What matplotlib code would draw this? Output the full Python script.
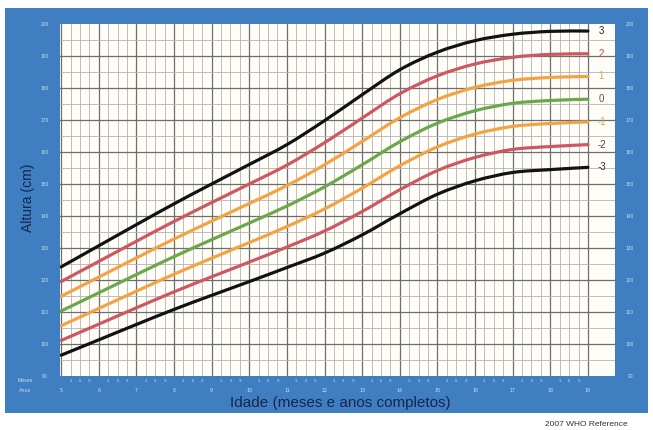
import numpy as np
import matplotlib
matplotlib.use("Agg")
import matplotlib.pyplot as plt
from matplotlib.path import Path
from matplotlib.patches import PathPatch, Rectangle

plt.rcParams['font.family'] = ['Liberation Sans', 'DejaVu Sans']

# Height-for-age z-score curves (cm), boys, by completed years
ages = [5, 6, 7, 8, 9, 10, 11, 12, 13, 14, 15, 16, 17, 18, 19]
z_p3 = [124.1, 130.7, 137.3, 143.8, 150.0, 156.1, 162.3, 169.8, 177.9, 185.7, 191.2, 194.8, 196.8, 197.7, 197.8]
z_p2 = [119.5, 125.8, 132.1, 138.3, 144.2, 150.0, 155.9, 162.9, 170.6, 178.2, 183.8, 187.5, 189.6, 190.5, 190.7]
z_p1 = [114.9, 120.9, 126.9, 132.8, 138.4, 143.9, 149.5, 156.0, 163.3, 170.7, 176.4, 180.2, 182.4, 183.3, 183.6]
z_0 = [110.3, 116.0, 121.7, 127.3, 132.6, 137.8, 143.1, 149.1, 156.0, 163.2, 169.0, 172.9, 175.2, 176.1, 176.5]
z_m1 = [105.7, 111.1, 116.5, 121.8, 126.8, 131.7, 136.7, 142.2, 148.7, 155.7, 161.6, 165.6, 168.0, 168.9, 169.4]
z_m2 = [101.1, 106.2, 111.3, 116.3, 121.0, 125.6, 130.3, 135.3, 141.4, 148.2, 154.2, 158.3, 160.8, 161.7, 162.3]
z_m3 = [96.5, 101.3, 106.1, 110.8, 115.2, 119.5, 123.9, 128.4, 134.1, 140.7, 146.8, 151.0, 153.6, 154.5, 155.2]

z_names = ["3", "2", "1", "0", "-1", "-2", "-3"]
curves = [z_p3, z_p2, z_p1, z_0, z_m1, z_m2, z_m3]
line_colors = ["#121212", "#cd5862", "#f2a444", "#6aa84a", "#f2a444", "#cd5862", "#121212"]
label_colors = ["#222222", "#b34a52", "#e8a050", "#555555", "#e8a050", "#444444", "#333333"]

y_ticks = [90, 100, 110, 120, 130, 140, 150, 160, 170, 180, 190, 200]
month_ticks = ["3", "6", "9"]

W, H = 653, 430
fig = plt.figure(figsize=(W / 100, H / 100), dpi=100)
fig.patch.set_facecolor("white")

def fx(px):
    return px / W

def fy(py):
    return 1 - py / H

# blue frame drawn on a full-figure background axes
bg = fig.add_axes([0, 0, 1, 1], zorder=-5)
bg.set_xlim(0, W)
bg.set_ylim(H, 0)
bg.axis("off")
bg.add_patch(Rectangle((5, 8), 643, 405, facecolor="#3f7fc1", edgecolor="none"))

ax = fig.add_axes([fx(60), fy(376), fx(555), 352 / H], zorder=1)
ax.set_facecolor("#fffdf8")
x0, x1 = 4.97, 19.72
ax.set_xlim(x0, x1)
ax.set_ylim(90, 200)
for s in ax.spines.values():
    s.set_visible(False)
ax.set_xticks([])
ax.set_yticks([])

# grid: quarter-years vertically, 5 cm horizontally
for q in np.arange(5, 19.01, 0.25):
    if abs(q - round(q)) < 1e-6:
        ax.axvline(q, color="#6e6e6e", lw=0.9, zorder=1)
    else:
        ax.axvline(q, color="#b8b2b2", lw=0.6, zorder=1)
for q in np.arange(95, 200, 5):
    if q % 10 == 0:
        ax.axhline(q, color="#6e6e6e", lw=0.9, zorder=1)
    else:
        ax.axhline(q, color="#b8b2b2", lw=0.6, zorder=1)


def smooth_path(xs, ys):
    pts = np.column_stack([xs, ys]).astype(float)
    ext = np.vstack([pts[0], pts, pts[-1]])
    verts = [pts[0]]
    codes = [Path.MOVETO]
    for i in range(len(pts) - 1):
        p0, p1, p2, p3 = ext[i], ext[i + 1], ext[i + 2], ext[i + 3]
        c1 = p1 + (p2 - p0) / 6.0
        c2 = p2 - (p3 - p1) / 6.0
        verts += [c1, c2, p2]
        codes += [Path.CURVE4] * 3
    return Path(verts, codes)


for vals, col in zip(curves, line_colors):
    ax.add_patch(PathPatch(smooth_path(ages, vals), fill=False, edgecolor=col,
                           lw=2.3, capstyle="round", zorder=3))

for name, vals, col in zip(z_names, curves, label_colors):
    ax.text(19.36, vals[-1], name, color=col, fontsize=7, ha="center", va="center",
            zorder=4)

# axis labels in the blue frame
tick_col = "#c9dcf2"
for v in y_ticks:
    py = 376 - (v - 90) * 352 / 110
    fig.text(fx(45), fy(py), str(v), color=tick_col, fontsize=3.5, ha="center", va="center")
    fig.text(fx(630), fy(py), str(v), color=tick_col, fontsize=3.5, ha="center", va="center")

def px_of(age):
    return 60 + (age - x0) / (x1 - x0) * 555

for a in ages:
    fig.text(fx(px_of(a)), fy(391), str(a), color=tick_col, fontsize=3.8, ha="center", va="center")
    if a < 19:
        for k, m in enumerate(month_ticks):
            fig.text(fx(px_of(a + 0.25 * (k + 1))), fy(381), m, color=tick_col, fontsize=3,
                     ha="center", va="center")

fig.text(fx(25), fy(381), "Meses", color=tick_col, fontsize=3.8, ha="center", va="center")
fig.text(fx(25), fy(390), "Anos", color=tick_col, fontsize=3.8, ha="center", va="center")

fig.text(fx(28), fy(198), "Altura (cm)", color="#16264d", fontsize=10, rotation=90,
         ha="center", va="center")
fig.text(fx(340), fy(403), "Idade (meses e anos completos)", color="#16264d", fontsize=11,
         ha="center", va="center")
fig.text(fx(586), fy(424), "2007 WHO Reference", color="#333333", fontsize=6,
         ha="center", va="center")

fig.savefig("out.png", dpi=100)
